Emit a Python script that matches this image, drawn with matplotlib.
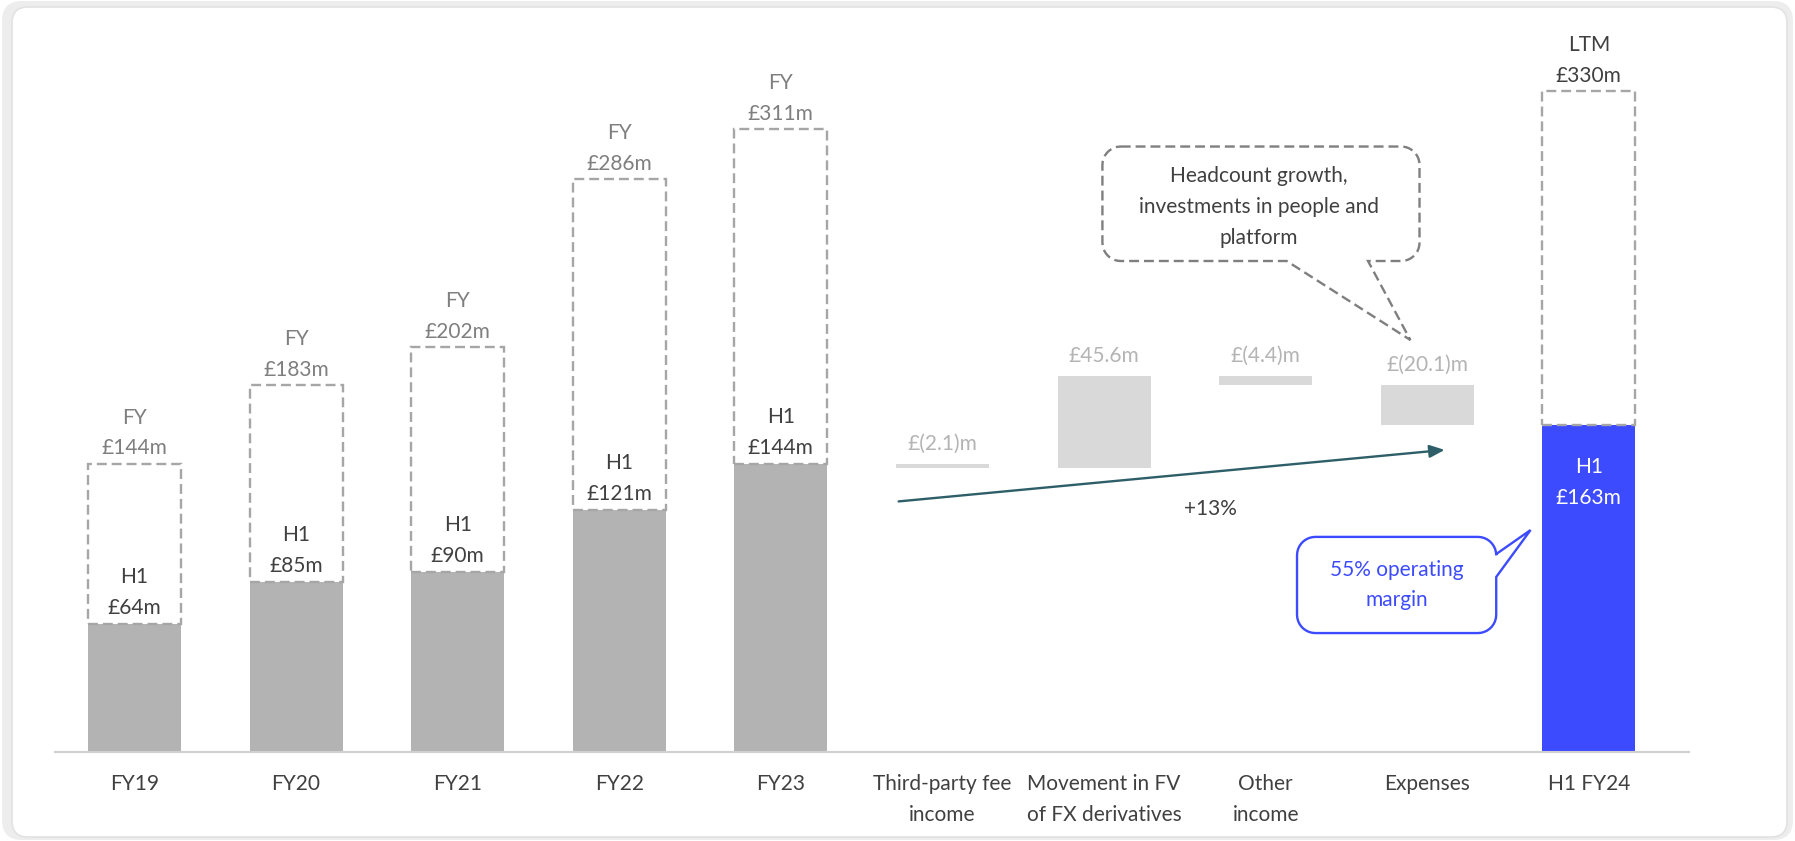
import matplotlib
matplotlib.use("Agg")
import matplotlib.pyplot as plt
from matplotlib.patches import FancyBboxPatch, PathPatch
from matplotlib.path import Path
from matplotlib.transforms import Affine2D
import numpy as np

plt.rcParams['font.family'] = ['Lato', 'DejaVu Sans']

# ---------------- data ----------------
hist_cats = ["FY19", "FY20", "FY21", "FY22", "FY23"]
hist_h1 = [64, 85, 90, 121, 144]
hist_fy = [144, 183, 202, 286, 311]

bridge_cats = ["Third-party fee\nincome", "Movement in FV\nof FX derivatives", "Other\nincome", "Expenses"]
bridge_vals = [-2.1, 45.6, -4.4, -20.1]
bridge_labels = ["£(2.1)m", "£45.6m", "£(4.4)m", "£(20.1)m"]

final_cat = "H1 FY24"
final_h1 = 163
final_ltm = 330

growth_label = "+13%"
callout_cost = "Headcount growth,\ninvestments in people and\nplatform"
callout_margin = "55% operating\nmargin"

# ---------------- styles ----------------
C_H1 = "#b3b3b3"
C_BRIDGE = "#d9d9d9"
C_DASH = "#a6a6a6"
C_FYTXT = "#7f7f7f"
C_DARK = "#404040"
C_BRTXT = "#b4b4b4"
C_BLUE = "#3d4bff"
C_ARROW = "#2e5f69"
FS = 15
LS = 1.67
DASH = (0, (4.2, 2.1))

W, H = 1795, 841
fig = plt.figure(figsize=(W / 100, H / 100), dpi=100)
fig.patch.set_facecolor("white")

# pixel transform using the 1568-wide reference coordinate (y down)
S = W / 1568.0
pix = Affine2D().scale(S, -S).translate(0, H)

# frame
outer = FancyBboxPatch((2, 1), W - 4, H - 2, boxstyle="round,pad=0,rounding_size=20",
                       transform=None, facecolor="#ededed", edgecolor="none", zorder=-2)
inner = FancyBboxPatch((12, 4), W - 20, H - 11, boxstyle="round,pad=0,rounding_size=16",
                       transform=None, facecolor="white", edgecolor="#e2e2e2", lw=1.2, zorder=-1)
fig.patches.extend([outer, inner])

ax = fig.add_axes([55 / W, 89 / H, 1634 / W, 752 / H])
ax.set_facecolor("none")
ax.set_xlim(-0.492, 9.62)
ax.set_ylim(0, 375.4)

bw = 0.575
n_hist = len(hist_cats)
x_hist = np.arange(n_hist)
x_bridge = np.arange(n_hist, n_hist + len(bridge_cats))
x_final = n_hist + len(bridge_cats)

# historical bars
ax.bar(x_hist, hist_h1, width=bw, color=C_H1, zorder=2)
ax.bar(x_hist, np.array(hist_fy) - np.array(hist_h1), bottom=hist_h1, width=bw,
       fill=False, edgecolor=C_DASH, linestyle=DASH, linewidth=1.7, zorder=3)

for x, h1, fy in zip(x_hist, hist_h1, hist_fy):
    ax.annotate(f"FY\n£{fy}m", (x, fy), xytext=(0, 22), textcoords="offset points",
                ha="center", va="center", fontsize=FS, color=C_FYTXT, linespacing=LS)
    ax.annotate(f"H1\n£{h1}m", (x, h1), xytext=(0, 22.5), textcoords="offset points",
                ha="center", va="center", fontsize=FS, color=C_DARK, linespacing=LS, zorder=4)

# bridge bars
level = hist_h1[-1]
for x, v, lab in zip(x_bridge, bridge_vals, bridge_labels):
    bottom = level if v >= 0 else level + v
    ax.bar(x, abs(v), bottom=bottom, width=bw, color=C_BRIDGE, zorder=2)
    ax.annotate(lab, (x, bottom + abs(v)), xytext=(0, 14.5), textcoords="offset points",
                ha="center", va="center", fontsize=FS, color=C_BRTXT)
    level += v

# final bar
ax.bar([x_final], [final_h1], width=bw, color=C_BLUE, zorder=2)
ax.bar([x_final], [final_ltm - final_h1], bottom=[final_h1], width=bw, fill=False,
       edgecolor=C_DASH, linestyle=DASH, linewidth=1.7, zorder=3)
ax.annotate(f"LTM\n£{final_ltm}m", (x_final, final_ltm), xytext=(0, 22), textcoords="offset points",
            ha="center", va="center", fontsize=FS, color=C_DARK, linespacing=LS)
ax.annotate(f"H1\n£{final_h1}m", (x_final, final_h1), xytext=(0, -41), textcoords="offset points",
            ha="center", va="center", fontsize=FS, color="white", linespacing=LS, zorder=4)

# axis styling
ax.set_xticks(list(x_hist) + list(x_bridge) + [x_final])
ax.set_xticklabels(hist_cats + bridge_cats + [final_cat], fontsize=FS, color=C_DARK, linespacing=LS)
ax.tick_params(axis="x", length=0, pad=16)
ax.set_yticks([])
for s in ["top", "left", "right"]:
    ax.spines[s].set_visible(False)
ax.spines["bottom"].set_color("#d0d0d0")
ax.spines["bottom"].set_linewidth(1.5)

# growth arrow
ax.annotate("", xy=(1262, 393), xycoords=pix, xytext=(785, 438), textcoords=pix,
            arrowprops=dict(arrowstyle="-|>,head_length=0.9,head_width=0.38", color=C_ARROW, lw=1.7,
                            shrinkA=0, shrinkB=0), zorder=5)
ax.text(1057, 445, growth_label, transform=pix, ha="center", va="center", fontsize=FS, color=C_DARK)


def callout(x0, y0, x1, y1, r, side, a, b, tip):
    def arc(cx, cy, t0, t1):
        t = np.linspace(np.radians(t0), np.radians(t1), 10)
        return list(zip(cx + r * np.cos(t), cy + r * np.sin(t)))
    pts = []
    pts += [(x0 + r, y0), (x1 - r, y0)]
    pts += arc(x1 - r, y0 + r, -90, 0)
    if side == "right":
        pts += [(x1, a), tip, (x1, b)]
    pts += [(x1, y1 - r)]
    pts += arc(x1 - r, y1 - r, 0, 90)
    if side == "bottom":
        pts += [(a, y1), tip, (b, y1)]
    pts += [(x0 + r, y1)]
    pts += arc(x0 + r, y1 - r, 90, 180)
    pts += [(x0, y0 + r)]
    pts += arc(x0 + r, y0 + r, 180, 270)
    pts.append(pts[0])
    codes = [Path.MOVETO] + [Path.LINETO] * (len(pts) - 2) + [Path.CLOSEPOLY]
    return Path(pts, codes)


p1 = callout(963, 128, 1240, 228, 16, "bottom", 1195, 1124, (1232, 297))
fig.patches.append(PathPatch(p1, transform=pix, facecolor="white", edgecolor="#7f7f7f",
                             lw=1.7, linestyle=DASH, zorder=5))
fig.text(1100, 181, callout_cost, transform=pix, ha="center", va="center", fontsize=FS,
         color=C_DARK, linespacing=LS, zorder=6)

p2 = callout(1133, 469, 1307, 553, 16, "right", 484, 504, (1337, 463))
fig.patches.append(PathPatch(p2, transform=pix, facecolor="white", edgecolor=C_BLUE,
                             lw=1.7, zorder=5))
fig.text(1220, 511, callout_margin, transform=pix, ha="center", va="center", fontsize=FS,
         color=C_BLUE, linespacing=LS, zorder=6)

fig.savefig("out.png", dpi=100)
